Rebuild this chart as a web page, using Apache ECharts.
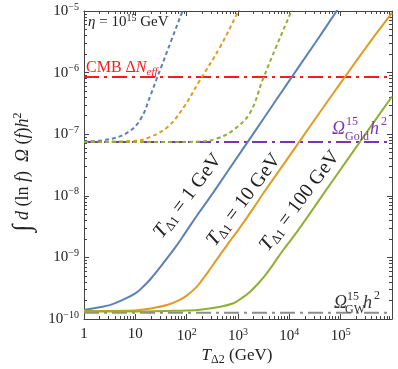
<!DOCTYPE html>
<html>
<head>
<meta charset="utf-8">
<script src="https://cdn.jsdelivr.net/npm/echarts@6/dist/echarts.min.js"></script>
<style>
html, body { margin: 0; padding: 0; background: #fff; }
#chart { width: 398px; height: 369px; }
</style>
</head>
<body>
<div id="chart"></div>
<script>
// axes: T_Δ2 (GeV) on x, ∫ d(ln f) Ω(f) h² on y, both log
var xTicks = [1, 10, 100, 1e3, 1e4, 1e5];
var yTicks = [1e-10, 1e-9, 1e-8, 1e-7, 1e-6, 1e-5];

// solid curves (T_Δ1 = 1, 10, 100 GeV)
var solid1X = [1, 2, 3.16, 5, 10, 15, 20, 30, 40, 60, 80, 120, 158, 250, 398, 1000, 3160, 1e4, 3.16e4, 1e5];
var solid1Y = [1.4e-10, 1.55e-10, 1.68e-10, 1.95e-10, 2.6e-10, 3.5e-10, 4.5e-10, 6.8e-10, 9.3e-10, 1.45e-9, 2.05e-9, 3.4e-9, 4.75e-9, 8.1e-9, 1.42e-8, 4.4e-8, 1.8e-7, 7.4e-7, 3.0e-6, 1.25e-5];
var solid10X = [1, 10, 20, 43, 70, 100, 150, 200, 280, 355, 500, 700, 1000, 2000, 3160, 1e4, 3.16e4, 1e5, 3.16e5, 1e6];
var solid10Y = [1.35e-10, 1.38e-10, 1.48e-10, 1.7e-10, 2.0e-10, 2.4e-10, 3.2e-10, 4.3e-10, 6.3e-10, 8.4e-10, 1.25e-9, 1.85e-9, 2.75e-9, 6.3e-9, 1.12e-8, 4.4e-8, 1.75e-7, 6.8e-7, 2.6e-6, 9.3e-6];
var solid100X = [1, 10, 40, 100, 182, 400, 813, 1200, 1700, 2500, 3630, 5000, 7600, 1.48e4, 3.16e4, 7.2e4, 2.4e5, 1e6];
var solid100Y = [1.32e-10, 1.32e-10, 1.35e-10, 1.37e-10, 1.41e-10, 1.55e-10, 1.8e-10, 2.2e-10, 2.75e-10, 3.8e-10, 5.5e-10, 8.0e-10, 1.32e-9, 2.75e-9, 6.8e-9, 1.82e-8, 7.6e-8, 4.1e-7];

// dotted curves
var dot1X = [1, 3.16, 7.1, 12.6, 20, 26.3, 31.6, 50, 83, 95];
var dot1Y = [7.6e-8, 8.3e-8, 1.07e-7, 1.74e-7, 4.4e-7, 8.1e-7, 1.2e-6, 3.3e-6, 1e-5, 1.35e-5];
var dot10X = [1, 10, 20, 43, 89, 170, 447, 1020, 1260];
var dot10Y = [7.5e-8, 7.8e-8, 9.1e-8, 1.32e-7, 2.8e-7, 6.9e-7, 2.6e-6, 1e-5, 1.4e-5];
var dot100X = [1, 100, 182, 389, 813, 1700, 3020, 5620, 1.07e4, 1.26e4];
var dot100Y = [7.5e-8, 7.5e-8, 7.6e-8, 8.5e-8, 1.17e-7, 2.2e-7, 7.6e-7, 2.7e-6, 9.5e-6, 1.3e-5];

// horizontal reference levels
var cmbLevel = 8.5e-7;
var goldLevel = 7.5e-8;
var gwLevel = 1.26e-10;
var xMin = 1, xMax = 1e6, yMin = 1e-10, yMax = 1e-5;

var serif = 'Liberation Serif';
var axisColor = '#444';

function zip(xs, ys) {
  return xs.map(function (x, i) { return [x, ys[i]]; });
}
function minorTicks(lo, hi) {
  var out = [];
  for (var d = lo; d < hi; d *= 10) {
    for (var k = 2; k <= 9; k++) out.push(k * d);
  }
  return out;
}
var xMinor = minorTicks(xMin, xMax);
var yMinor = minorTicks(yMin, yMax);

var labelRich = {
  b: { fontFamily: serif, fontSize: 15, color: '#222' },
  s: { fontFamily: serif, fontSize: 10, color: '#222', padding: [0, 0, 8, 0] }
};
function xFmt(v) {
  var e = Math.round(Math.log10(v));
  if (e === 0) return '{b|1}';
  if (e === 1) return '{b|10}';
  return '{b|10}{s|' + e + '}';
}
function yFmt(v) {
  var e = Math.round(Math.log10(v));
  return '{b|10}{s|\u2212' + (-e) + '}';
}

function logAxis(pos, isX, major, labels) {
  var a = {
    type: 'log', logBase: 10, position: pos,
    min: isX ? xMin : yMin, max: isX ? xMax : yMax,
    splitLine: { show: false },
    axisLine: { show: major, lineStyle: { color: axisColor, width: 1 } },
    axisTick: {
      show: true, inside: true, length: major ? 5 : 3,
      lineStyle: { color: axisColor, width: 1 },
      customValues: major ? (isX ? xTicks : yTicks) : (isX ? xMinor : yMinor)
    },
    axisLabel: { show: false }
  };
  if (labels) {
    a.axisLabel = {
      show: true,
      customValues: isX ? xTicks : yTicks,
      formatter: isX ? xFmt : yFmt,
      rich: labelRich,
      margin: isX ? 8 : 5
    };
  }
  return a;
}

function curve(xs, ys, color, dotted) {
  return {
    type: 'line', data: zip(xs, ys), showSymbol: false,
    smooth: 0.4,
    xAxisIndex: 0, yAxisIndex: 0, clip: true,
    lineStyle: { color: color, width: 2, type: dotted ? [4, 3] : 'solid' }
  };
}
function level(y, color) {
  return {
    type: 'line', data: [[xMin, y], [xMax, y]], showSymbol: false,
    xAxisIndex: 0, yAxisIndex: 0,
    lineStyle: { color: color, width: 2, type: [15, 5, 3, 5] }
  };
}

var blue = '#5E81B5', orange = '#E19C24', green = '#8FB032';
var red = '#FF1A1A', purple = '#7A35B5', gray = '#8C8C8C';

var chart = echarts.init(document.getElementById('chart'), null, { renderer: 'canvas' });

function tx(x, y, text, opt) {
  opt = opt || {};
  return {
    type: 'text', x: x, y: y, rotation: opt.rot || 0, z: 100,
    style: {
      text: text, fill: opt.color || '#222', fontFamily: serif,
      fontSize: opt.size || 15, fontStyle: opt.italic ? 'italic' : 'normal',
      align: opt.align || 'left', verticalAlign: 'middle',
      rich: opt.rich
    }
  };
}
function tLabelRich(color) {
  return {
    i: { fontFamily: serif, fontSize: 20, fontStyle: 'italic', color: color },
    sub: { fontFamily: serif, fontSize: 13, color: color, padding: [9, 0, 0, 0] },
    n: { fontFamily: serif, fontSize: 20, color: color }
  };
}
var rot = 53 * Math.PI / 180;

chart.setOption({
  animation: false,
  grid: { left: 84, right: 6, top: 11, bottom: 50 },
  xAxis: [
    logAxis('bottom', true, true, true),
    logAxis('bottom', true, false, false),
    logAxis('top', true, true, false),
    logAxis('top', true, false, false)
  ],
  yAxis: [
    logAxis('left', false, true, true),
    logAxis('left', false, false, false),
    logAxis('right', false, true, false),
    logAxis('right', false, false, false)
  ],
  series: [
    level(cmbLevel, red),
    level(goldLevel, purple),
    level(gwLevel, gray),
    curve(solid1X, solid1Y, blue, false),
    curve(solid10X, solid10Y, orange, false),
    curve(solid100X, solid100Y, green, false),
    curve(dot1X, dot1Y, blue, true),
    curve(dot10X, dot10Y, orange, true),
    curve(dot100X, dot100Y, green, true)
  ],
  graphic: [
    tx(88, 22, '{i|\u03B7} = 10{s|15} GeV', {
      size: 15,
      rich: {
        i: { fontFamily: serif, fontSize: 15, fontStyle: 'italic', color: '#222' },
        s: { fontFamily: serif, fontSize: 10, color: '#222', padding: [0, 0, 7, 0] }
      }
    }),
    tx(86, 68, 'CMB \u0394{i|N}{sub|eff}', {
      size: 16, color: red,
      rich: {
        i: { fontFamily: serif, fontSize: 16, fontStyle: 'italic', color: red },
        sub: { fontFamily: serif, fontSize: 11, fontStyle: 'italic', color: red, padding: [8, 0, 0, 0] }
      }
    }),
    // Ω^15_Gold h^2
    tx(332, 129, '\u03A9', { size: 18, italic: true, color: purple }),
    tx(346, 122, '15', { size: 12, color: purple }),
    tx(345, 137, 'Gold', { size: 12, color: purple }),
    tx(370, 129, 'h', { size: 18, italic: true, color: purple }),
    tx(381, 122, '2', { size: 12, color: purple }),
    // Ω^15_GW h^2
    tx(334, 303, '\u03A9', { size: 18, italic: true, color: '#333' }),
    tx(347, 297, '15', { size: 12, color: '#333' }),
    tx(345, 310, 'GW', { size: 12, color: '#333' }),
    tx(363, 303, 'h', { size: 18, italic: true, color: '#333' }),
    tx(374, 296, '2', { size: 12, color: '#333' }),
    // rotated curve labels
    tx(188, 196, '{i|T}{sub|\u03941}{n| = 1 GeV}', { rot: rot, align: 'center', rich: tLabelRich(blue) }),
    tx(244, 200, '{i|T}{sub|\u03941}{n| = 10 GeV}', { rot: rot, align: 'center', rich: tLabelRich(orange) }),
    tx(300, 201, '{i|T}{sub|\u03941}{n| = 100 GeV}', { rot: rot, align: 'center', rich: tLabelRich(green) }),
    // axis titles
    tx(237, 356, '{i|T}{sub|\u03942}{n| (GeV)}', {
      align: 'center',
      rich: {
        i: { fontFamily: serif, fontSize: 17, fontStyle: 'italic', color: '#222' },
        sub: { fontFamily: serif, fontSize: 12, color: '#222', padding: [7, 0, 0, 0] },
        n: { fontFamily: serif, fontSize: 17, color: '#222' }
      }
    }),
    tx(23, 172, '{int|\u222B}{i| d}{n| (ln }{i|f}{n|)  }{i|\u03A9}{n| (}{i|f}{n|)}{i|h}{sup|2}', {
      rot: Math.PI / 2, align: 'center',
      rich: {
        int: { fontFamily: serif, fontSize: 26, color: '#222' },
        i: { fontFamily: serif, fontSize: 18, fontStyle: 'italic', color: '#222' },
        n: { fontFamily: serif, fontSize: 18, color: '#222' },
        sup: { fontFamily: serif, fontSize: 12, color: '#222', padding: [0, 0, 10, 0] }
      }
    })
  ]
});
</script>
</body>
</html>
